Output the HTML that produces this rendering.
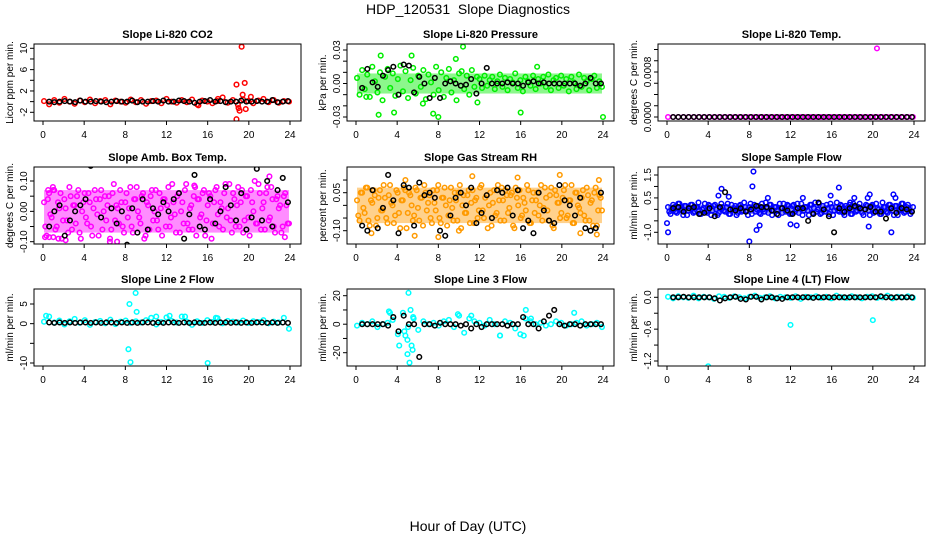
<!DOCTYPE html>
<html><head><meta charset="utf-8">
<style>
html,body{margin:0;padding:0;background:#fff;}
svg{display:block;font-family:"Liberation Sans",Arial,sans-serif;}
</style></head>
<body>
<svg id="chart" width="936" height="540" viewBox="0 0 936 540" xmlns="http://www.w3.org/2000/svg">
<text x="468" y="14" text-anchor="middle" font-size="14">HDP_120531&#160;&#160;Slope Diagnostics</text>
<text x="468" y="531" text-anchor="middle" font-size="14">Hour of Day (UTC)</text>
</svg>
<script>
// ---- data ----
const xTicks = [0,4,8,12,16,20,24];

const co2Color = [0.1,-0.5,0.3,-0.2,0.5,0.0,-0.4,0.2,-0.1,0.4,-0.3,0.1,0.3,-0.5,0.2,0.0,-0.2,0.4,-0.1,0.3,-0.4,0.1,0.2,-0.3,0.5,0.0,-0.2,0.3,-0.1,0.4,-0.5,0.2,0.0,-0.3,0.1,0.8,-0.2,0.3,-0.6,0.4,0.1,-0.3,0.2,0.5,-0.1,0.3,-0.2,0.1,0.0];
const co2OutT = [18.8,19.3,19.0,19.1,18.8,19.6,19.4,19.7,20.2,17.0,15.1];
const co2OutV = [3.2,10.3,-1.2,-1.7,-3.3,3.5,1.3,-1.4,0.9,0.5,-0.7];
const co2Black = [0,-0.1,0,0.1,0,-0.1,0.2,0,0,0.1,0,-0.1,0,0.1,0,0,0.2,-0.1,0,0,0.1,0,0.2,0,0,0.2,0.1,0,-0.2,0,0.1,0.3,0,0.1,-0.1,0,0,0.2,0,0,0.1,0,0,0.3,-0.1,0,0.1];

const presColor = [0.005,-0.01,0.012,-0.005,0.008,-0.012,0.015,0.002,-0.008,0.01,-0.015,0.006,0.013,-0.004,0.009,-0.011,0.004,0.016,-0.007,0.011,-0.013,0.003,0.014,-0.009,0.007,-0.003,0.012,-0.014,0.008,0.001,-0.01,0.015,-0.006,0.01,-0.012,0.005,0.013,-0.008,0.003,-0.015,0.009,0.011,-0.005,0.007,-0.01,0.012,-0.003,0.006,0.004,-0.004,0.007,-0.002,0.003,0.006,-0.005,0.002,0.008,-0.003,0.005,-0.006,0.004,0.001,0.009,-0.004,0.003,-0.007,0.006,0.002,-0.002,0.007,-0.005,0.004,0.000,0.006,-0.003,0.008,-0.006,0.003,0.005,-0.004,0.007,-0.002,0.004,-0.007,0.006,0.001,-0.005,0.008,-0.003,0.005,0.002,-0.006,0.004,0.007,-0.004,0.002,-0.003];
const presOutT = [10.4,2.4,5.4,2.2,3.7,7.5,8.0,16.0,24.0,9.7,17.6,1.0,6.5,11.8];
const presOutV = [0.033,0.025,0.025,-0.028,-0.026,-0.027,-0.03,-0.026,-0.03,0.022,0.015,-0.012,-0.018,-0.017];
const presBlack = [-0.004,0.013,0.001,-0.003,0.007,0.012,0.015,-0.01,0.017,0.016,-0.008,0.006,0.0,-0.013,0.005,-0.013,0.0,0.002,0.0,-0.002,-0.001,0.004,-0.009,0.0,0.014,0.0,0.0,0.0,0.001,0.0,0.0,-0.002,0.001,0.002,0.0,0.001,0.0,0.0,0.0,0.0,0.0,0.0,-0.002,0.0,0.005,0.0,0.0];

const tempColor = [0,0,0,0,0,0,0,0,0,0,0,0,0,0,0,0,0,0,0,0,0,0,0,0,0,0,0,0,0,0,0,0,0,0,0,0,0,0,0,0,0,0,0,0,0,0,0,0,0];
const tempOutT = [20.4];
const tempOutV = [0.00122];
const tempBlack = [0,0,0,0,0,0,0,0,0,0,0,0,0,0,0,0,0,0,0,0,0,0,0,0,0,0,0,0,0,0,0,0,0,0,0,0,0,0,0,0,0,0,0,0,0,0,0];

const ambColorA = [0.03,-0.08,0.06,-0.02,0.07,-0.05,0.01,-0.09,0.04,-0.03,0.08,-0.06,0.02,0.05,-0.07,0.00,0.06,-0.04,0.03,-0.08,0.07,-0.01,0.04,-0.06,0.05,0.02,-0.09,0.06,-0.03,0.01,0.07,-0.05,0.03,-0.02,0.08,-0.07,0.04,0.00,-0.04,0.06,-0.08,0.02,0.05,-0.03,0.07,-0.06,0.01,0.04,-0.05,0.08,-0.02,0.03,-0.07,0.06,0.00,-0.04,0.09,-0.06,0.02,0.05,-0.08,0.04,-0.01,0.07,-0.03,0.06,-0.09,0.03,0.08,-0.05,0.01,0.06,-0.02,0.09,-0.07,0.04,0.02,-0.05,0.07,-0.03,0.05,-0.08,0.03,0.10,-0.04,0.06,0.01,-0.06,0.08,-0.02,0.04,-0.07,0.05,0.02,-0.05,0.06,-0.04];
const ambColorB = [-0.05,0.04,-0.01,0.08,-0.06,0.03,0.06,-0.03,0.01,-0.07,0.05,0.02,-0.04,0.07,-0.09,0.03,-0.02,0.06,-0.05,0.01,0.04,-0.08,0.07,0.00,-0.03,0.05,-0.06,0.09,0.02,-0.04,0.03,-0.07,0.06,0.01,-0.05,0.04,0.08,-0.02,0.05,-0.09,0.03,-0.06,0.07,0.00,-0.03,0.06,-0.08,0.04,0.02,-0.05,0.09,-0.01,0.05,-0.07,0.03,0.07,-0.04,0.01,-0.06,0.08,0.04,-0.02,0.06,-0.08,0.02,0.05,-0.04,0.07,-0.01,0.03,-0.06,0.09,0.01,-0.03,0.06,-0.05,0.08,0.03,-0.07,0.05,-0.02,0.07,0.00,-0.04,0.09,-0.06,0.03,0.06,-0.03,0.08,-0.05,0.04,0.01,-0.07,0.05,0.02,-0.04];
const ambOutT = [0.2,0.6,1.0,1.5,2.2,6.5,7.2,14.7,22.0,23.5,0.5,1.0];
const ambOutV = [-0.085,-0.085,-0.085,-0.09,-0.095,-0.1,-0.1,0.085,0.115,-0.085,0.07,0.07];
const ambBlack = [-0.05,0.00,0.02,-0.08,-0.03,0.00,0.02,0.04,0.15,-0.13,-0.02,-0.17,0.01,-0.04,0.00,-0.11,0.01,-0.07,0.04,-0.06,0.01,-0.01,0.03,0.00,0.04,0.06,-0.09,-0.01,0.12,-0.05,-0.06,0.04,-0.04,0.00,0.08,0.02,-0.03,0.06,-0.06,-0.02,0.14,-0.03,0.10,-0.05,0.07,0.11,0.03];

const rhColorA = [0.02,-0.06,0.05,-0.03,0.07,-0.08,0.01,0.04,-0.05,0.06,-0.02,0.03,-0.07,0.08,0.00,-0.04,0.05,-0.09,0.02,0.06,-0.03,0.04,-0.06,0.07,-0.01,0.03,-0.08,0.05,0.01,-0.05,0.06,-0.02,0.08,-0.07,0.03,0.00,-0.04,0.07,-0.06,0.02,0.05,-0.09,0.04,-0.03,0.06,0.01,-0.07,0.03,-0.02,0.08,-0.05,0.04,0.00,-0.08,0.06,-0.03,0.02,0.07,-0.06,0.04,-0.01,0.05,-0.09,0.03,0.06,-0.04,0.01,0.08,-0.07,0.02,-0.03,0.05,0.00,-0.06,0.07,-0.02,0.04,-0.08,0.06,0.01,-0.05,0.03,0.08,-0.04,0.02,-0.07,0.05,0.00,-0.03,0.06,-0.06,0.04,0.01,-0.08,0.07,-0.02,0.03];
const rhColorB = [-0.04,0.05,-0.01,0.07,-0.06,0.02,0.06,-0.08,0.03,-0.02,0.08,-0.05,0.04,0.01,-0.07,0.06,-0.03,0.02,0.07,-0.09,0.05,0.00,-0.04,0.06,-0.06,0.03,0.08,-0.02,0.04,-0.07,0.01,0.06,-0.05,0.03,0.07,-0.08,0.02,-0.01,0.05,-0.06,0.08,0.00,-0.03,0.04,-0.07,0.06,0.02,-0.05,0.07,-0.02,0.03,-0.09,0.05,0.01,-0.04,0.08,-0.06,0.02,0.06,-0.03,0.04,-0.08,0.07,0.00,-0.05,0.03,-0.02,0.06,-0.07,0.05,0.02,-0.04,0.08,-0.01,0.03,-0.06,0.07,-0.09,0.04,0.01,-0.03,0.06,-0.05,0.02,0.08,-0.07,0.05,-0.01,0.03,-0.04,0.07,-0.06,0.02,0.05,-0.08,0.04,-0.02];
const rhOutT = [1.5,4.8,5.7,8.0,10.0,11.3,15.7,19.8,21.8,23.4,23.6];
const rhOutV = [-0.11,0.1,-0.12,-0.125,-0.1,0.115,0.11,0.12,-0.11,-0.115,0.1];
const rhBlack = [-0.08,-0.10,0.06,-0.09,-0.01,0.12,0.02,-0.11,0.08,0.07,-0.08,0.09,0.04,0.05,0.03,-0.10,-0.12,-0.04,0.03,0.05,0.00,0.07,-0.07,-0.03,0.04,-0.05,0.06,0.05,0.07,-0.04,0.06,-0.09,-0.06,-0.11,0.05,-0.02,-0.06,-0.07,0.08,0.02,0.00,-0.04,0.03,-0.09,-0.10,-0.09,0.05];

const flowColor = [0.1,-0.2,0.2,-0.1,0.25,0.0,-0.25,0.15,-0.05,0.2,-0.15,0.1,0.3,-0.2,0.05,-0.1,0.2,-0.25,0.15,0.0,-0.15,0.25,-0.05,0.1,-0.2,0.2,0.05,-0.25,0.15,-0.1,0.3,-0.05,0.1,-0.2,0.2,0.0,-0.15,0.25,-0.1,0.05,0.2,-0.25,0.1,-0.05,0.25,-0.15,0.0,0.2,-0.2,0.15,-0.1,0.25,0.05,-0.25,0.1,-0.05,0.2,-0.15,0.3,0.0,-0.2,0.15,-0.1,0.05,0.25,-0.25,0.1,-0.05,0.2,-0.15,0.15,0.0,-0.2,0.25,-0.1,0.1,0.05,-0.25,0.2,-0.05,0.15,-0.15,0.25,0.0,-0.2,0.1,-0.1,0.2,0.05,-0.25,0.15,-0.05,0.25,-0.15,0.1,0.0,-0.1];
const flowOutT = [0.0,0.1,4.0,5.0,5.3,6.0,8.0,8.3,8.4,8.7,9.0,9.8,12.0,12.6,15.9,16.7,18.2,19.5,19.7,19.6,21.8,22.0,22.2,17.8,13.2];
const flowOutV = [-0.6,-1.0,-1.7,0.6,0.9,0.55,-1.4,1.0,1.65,-0.9,-0.7,0.5,-0.65,-0.7,0.6,0.95,0.5,0.5,0.65,-0.75,-1.0,0.65,0.5,0.3,0.5];
const flowBlack = [0.05,0.1,-0.1,0.05,0.1,-0.2,-0.15,0.05,-0.3,0.1,0.75,0.0,-0.05,0.05,-0.1,0.0,0.15,0.1,0.1,-0.05,-0.2,0.05,-0.05,-0.2,0.05,0.05,-0.5,-0.2,0.3,0.0,-0.3,-1.0,0.05,-0.1,0.05,0.15,0.05,0.0,0.1,-0.1,-0.1,-0.4,0.05,-0.15,0.05,0.0,-0.1];

const l2Color = [0.5,1.8,0.3,0.8,-0.2,0.6,1.2,0.2,0.9,-0.3,0.4,0.7,0.1,1.0,-0.1,0.5,0.8,0.2,0.6,0.3,0.9,1.5,-0.2,0.4,1.6,0.7,0.3,1.8,0.5,-0.3,0.6,0.2,0.9,0.4,1.4,0.1,0.7,0.5,0.3,0.8,0.2,0.6,0.4,0.9,0.1,0.5,0.3,1.5,-1.3];
const l2OutT = [8.3,8.4,8.5,9.0,9.1,16.0,0.3,12.3,11.0,13.8,16.8];
const l2OutV = [-6.5,5,-9.8,7.8,3,-10,2.0,2.0,1.8,1.8,1.5];
const l2Black = [0.3,0.2,0.3,0.2,0.3,0.2,0.3,0.3,0.2,0.3,0.2,0.3,0.3,0.2,0.3,0.2,0.3,0.2,0.3,0.3,0.2,0.3,0.2,0.3,0.3,0.2,0.3,0.2,0.3,0.2,0.2,0.3,0.2,0.3,0.3,0.2,0.3,0.2,0.3,0.2,0.3,0.3,0.2,0.3,0.2,0.3,0.2];

const l3Color = [-1,1,0,2,-2,0,1,3,-7,8,-2,5,-4,2,0,1,-1,2,3,-2,6,-6,4,2,1,-1,3,0,-8,2,1,-3,-7,4,2,0,1,-1,0,2,1,-1,0,1,2,-1,0,1,-2];
const l3OutT = [4.2,4.7,4.8,5.0,5.0,5.1,5.2,5.3,5.4,5.5,5.6,3.2,3.3,9.9,11.2,16.5,17.0,21.2,14.0,16.3];
const l3OutV = [-15,-5,-8,-11,-21,22,-27,10,-15,-18,4,9,8,7,6,10,4,8,-8,-8];
const l3Black = [0,0,0,0,0,-1,5,-5,6,0,0,-23,0,0,-1,1,0,0,0,-1,0,-3,0,-2,0,0,0,0,-1,0,0,5,0,0,-3,2,6,10,0,-1,0,0,-1,0,0,0,0];

const l4Color = [0.01,-0.02,0.02,0.0,-0.01,0.03,-0.02,0.01,0.0,-0.03,0.02,0.01,-0.01,0.02,0.0,-0.02,0.01,0.03,-0.01,0.0,0.02,-0.02,0.01,0.0,-0.01,0.02,-0.03,0.01,0.0,0.02,-0.01,0.01,-0.02,0.03,0.0,-0.01,0.02,0.0,-0.02,0.01,0.02,-0.01,0.0,0.03,-0.02,0.01,0.0,0.02,-0.01];
const l4OutT = [4.0,12.0,20.0];
const l4OutV = [-1.3,-0.52,-0.43];
const l4Black = [0,0,0.01,0,0,0,0,0,-0.02,-0.06,-0.02,0,0.01,-0.03,-0.04,0.01,0.01,-0.04,0,0,-0.02,-0.03,0,0,0,0,0,-0.01,0,0,0,0,0,0,0,0,0,0,0,0,0.02,0,0,0,0,0,0];

// ---- panel layout (geometry only) ----
const panels = [
 {name:'co2', title:'Slope Li-820 CO2', ylab:'Licor ppm per min.', col:0,row:0, color:'#ff0000', cloud:[co2Color], band:false, outT:co2OutT,outV:co2OutV, black:co2Black,
  ref:[-2,112.3,10,48.3], ticks:[-2,0,2,4,6,8,10], labels:['-2','2','6','10'], labVals:[-2,2,6,10]},
 {name:'pressure', title:'Slope Li-820 Pressure', ylab:'kPa per min.', col:1,row:0, color:'#00ee00', cloud:[presColor], band:true, outT:presOutT,outV:presOutV, black:presBlack,
  ref:[-0.03,117,0.03,50], ticks:[-0.03,-0.02,-0.01,0,0.01,0.02,0.03], labels:['-0.03','0.00','0.03'], labVals:[-0.03,0,0.03]},
 {name:'temp', title:'Slope Li-820 Temp.', ylab:'degrees C per min.', col:2,row:0, color:'#ff00ff', cloud:[tempColor], band:false, outT:tempOutT,outV:tempOutV, black:tempBlack,
  ref:[0,117,0.0008,72], ticks:[0,0.0002,0.0004,0.0006,0.0008,0.0010,0.0012], labels:['0.0000','0.0008'], labVals:[0,0.0008]},
 {name:'amb-temp', title:'Slope Amb. Box Temp.', ylab:'degrees C per min.', col:0,row:1, color:'#ff00ff', cloud:[ambColorA,ambColorB], band:true, outT:ambOutT,outV:ambOutV, black:ambBlack,
  ref:[-0.1,241.7,0.1,181], ticks:[-0.1,-0.05,0,0.05,0.1], labels:['-0.10','0.00','0.10'], labVals:[-0.1,0,0.1]},
 {name:'gas-rh', title:'Slope Gas Stream RH', ylab:'percent per min.', col:1,row:1, color:'#ff9a00', cloud:[rhColorA,rhColorB], band:true, outT:rhOutT,outV:rhOutV, black:rhBlack,
  ref:[-0.1,230.7,0.05,192.7], ticks:[-0.1,-0.05,0,0.05,0.1], labels:['-0.10','0.05'], labVals:[-0.1,0.05]},
 {name:'sample-flow', title:'Slope Sample Flow', ylab:'ml/min per min.', col:2,row:1, color:'#0000ff', cloud:[flowColor,flowColor.slice().reverse()], band:true, outT:flowOutT,outV:flowOutV, black:flowBlack,
  ref:[-1.0,232.3,1.5,175], ticks:[-1,-0.5,0,0.5,1,1.5], labels:['-1.0','0.5','1.5'], labVals:[-1,0.5,1.5]},
 {name:'line2-flow', title:'Slope Line 2 Flow', ylab:'ml/min per min.', col:0,row:2, color:'#00ffff', cloud:[l2Color], band:false, outT:l2OutT,outV:l2OutV, black:l2Black,
  ref:[-10,363,5,304], ticks:[-10,-5,0,5], labels:['-10','0','5'], labVals:[-10,0,5]},
 {name:'line3-flow', title:'Slope Line 3 Flow', ylab:'ml/min per min.', col:1,row:2, color:'#00ffff', cloud:[l3Color], band:false, outT:l3OutT,outV:l3OutV, black:l3Black,
  ref:[-20,352.7,20,295.7], ticks:[-20,-10,0,10,20], labels:['-20','0','20'], labVals:[-20,0,20]},
 {name:'line4-flow', title:'Slope Line 4 (LT) Flow', ylab:'ml/min per min.', col:2,row:2, color:'#00ffff', cloud:[l4Color], band:false, outT:l4OutT,outV:l4OutV, black:l4Black,
  ref:[-1.2,361,0,297.3], ticks:[-1.2,-0.9,-0.6,-0.3,0], labels:['-1.2','-0.6','0.0'], labVals:[-1.2,-0.6,0]}
];
const boxX = [34,347,658], boxY = [44,167,289], BW = 267, BH = 77;
const NS = 'http://www.w3.org/2000/svg';
const svg = document.getElementById('chart');
function mk(tag, attrs, parent){ const e=document.createElementNS(NS,tag); for(const k in attrs) e.setAttribute(k,attrs[k]); (parent||svg).appendChild(e); return e; }

panels.forEach(p=>{
  const x0=boxX[p.col], y0=boxY[p.row];
  const xs = t => x0 + 9 + t*(247/24);
  const [v1,p1,v2,p2]=p.ref;
  const ys = v => p1 + (v-v1)*(p2-p1)/(v2-v1);
  const g = mk('g',{});
  
  
  const clip = mk('clipPath',{id:'clip-'+p.name}, g);
  mk('rect',{x:x0,y:y0,width:BW,height:BH}, clip);
  const title = mk('text',{x:x0+BW/2,y:y0-6,'text-anchor':'middle','font-size':11,'font-weight':'bold'}, g);
  title.textContent = p.title;
  
  
  const yl = mk('text',{transform:`translate(${x0-21},${y0+BH/2}) rotate(-90)`,'text-anchor':'middle','font-size':10}, g);
  yl.textContent = p.ylab;
  
  
  const pts = mk('g',{'clip-path':'url(#clip-'+p.name+')',fill:'none'}, g);
  
  
  // density band from cloud spread (dense panels)
  if (p.band) {
    const all = [].concat(...p.cloud).map(Math.abs).sort((a,b)=>a-b);
    const q = all[Math.floor(all.length*0.75)];
    const bd = mk('rect',{x:xs(0.1),y:ys(q),width:xs(23.9)-xs(0.1),height:ys(-q)-ys(q),fill:p.color,'fill-opacity':0.45}, pts);
    
    
  }
  p.cloud.forEach((arr,k)=>{
    const n=arr.length;
    arr.forEach((v,i)=>{
      const t = 0.1 + (i + k*0.5)*(23.8/(n-1+0.5*(p.cloud.length-1)));
      const c = mk('circle',{cx:xs(t),cy:ys(v),r:2.3,stroke:p.color,'stroke-width':1.5}, pts);
      
      
    });
  });
  p.outT.forEach((t,i)=>{
    const c = mk('circle',{cx:xs(t),cy:ys(p.outV[i]),r:2.3,stroke:p.color,'stroke-width':1.5}, pts);
    
    
  });
  p.black.forEach((v,i)=>{
    const t = 0.6 + i*(23.2/(p.black.length-1));
    const c = mk('circle',{cx:xs(t),cy:ys(v),r:2.3,stroke:'#000','stroke-width':1.5}, pts);
    
    
  });
  const b = mk('rect',{x:x0,y:y0,width:BW,height:BH,fill:'none',stroke:'#000','stroke-width':1}, g);
  
  
  xTicks.forEach(t=>{
    mk('line',{x1:xs(t),x2:xs(t),y1:y0+BH,y2:y0+BH+4,stroke:'#000'}, g);
    const tl = mk('text',{x:xs(t),y:y0+BH+17,'text-anchor':'middle','font-size':10}, g);
    tl.textContent = t;
    
    
  });
  p.ticks.forEach(v=>{ mk('line',{x1:x0-4,x2:x0,y1:ys(v),y2:ys(v),stroke:'#000'}, g); });
  p.labVals.forEach((v,i)=>{
    const tl = mk('text',{transform:`translate(${x0-7},${ys(v)}) rotate(-90)`,'text-anchor':'middle','font-size':10}, g);
    tl.textContent = p.labels[i];
    
    
  });
});
</script>
</body></html>
